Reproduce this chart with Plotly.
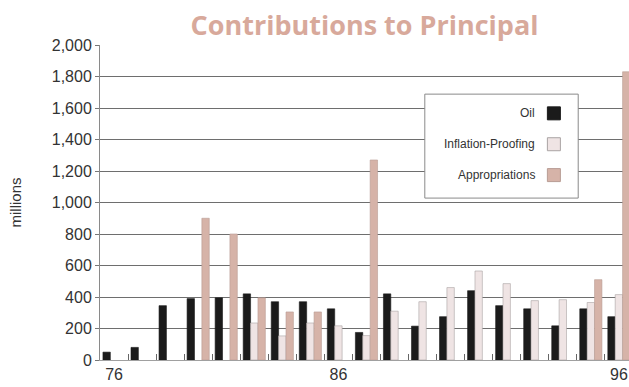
import plotly.graph_objects as go

# Contributions to principal, in millions of dollars, one group per year
periods = list(range(19))
tick_positions = [0, 8, 18]
tick_labels = ["76", "86", "96"]

oil = [50, 80, 345, 390, 395, 420, 370, 370, 325, 175, 420, 215, 275, 440, 345, 325, 217, 325, 275]
inflation_proofing = [None, None, None, None, None, 235, 153, 235, 217, 155, 310, 370, 460, 565, 485, 377, 383, 365, 415]
appropriations = [None, None, None, 900, 800, 395, 305, 305, None, 1270, None, None, None, None, None, None, None, 510, 1830]

series = [
    ("Oil", oil, "#1b1b1b", "#1b1b1b"),
    ("Inflation-Proofing", inflation_proofing, "#efe4e4", "#a9a3a3"),
    ("Appropriations", appropriations, "#d6b3a8", "#b89c94"),
]

fig = go.Figure()
for name, vals, fill, edge in series:
    fig.add_trace(go.Bar(
        x=periods, y=vals, name=name,
        marker=dict(color=fill, line=dict(color=edge, width=0.6)),
        showlegend=False,
    ))

# Custom key: right-aligned labels with swatches on the right
box = dict(x0=0.614, x1=0.904, y0=0.514, y1=0.844)
fig.add_shape(type="rect", xref="paper", yref="paper", **box,
              fillcolor="white", line=dict(color="#8a8a8a", width=1), layer="above")
key_y = [0.783, 0.685, 0.587]
sw_w = 13 / 529
sw_h = 13 / 315
for (name, _, fill, edge), yk in zip(series, key_y):
    fig.add_shape(type="rect", xref="paper", yref="paper",
                  x0=0.858 - sw_w / 2, x1=0.858 + sw_w / 2,
                  y0=yk - sw_h / 2, y1=yk + sw_h / 2,
                  fillcolor=fill, line=dict(color=edge if name != "Oil" else fill, width=1),
                  layer="above")
    fig.add_annotation(xref="paper", yref="paper", x=0.826, y=yk,
                       text=name, showarrow=False, xanchor="right", yanchor="middle",
                       font=dict(family="Liberation Sans, Arial", size=12, color="#333333"))

fig.update_layout(
    width=629, height=387,
    margin=dict(l=100, r=0, t=45, b=27),
    paper_bgcolor="white", plot_bgcolor="white",
    barmode="group", bargap=0.21, bargroupgap=0,
    title=dict(text="<b>Contributions to Principal</b>",
               x=0.5, xref="paper", xanchor="center",
               y=0.935, yref="container", yanchor="middle",
               font=dict(family="Open Sans", size=27, color="#d8a99b")),
    font=dict(family="Liberation Sans, Arial", color="#333333"),
)

fig.update_yaxes(
    range=[0, 2000], tickvals=list(range(0, 2001, 200)),
    tickformat=",d", tickfont=dict(size=16, color="#333333"),
    ticks="outside", ticklen=4, tickcolor="#777777",
    showgrid=True, gridcolor="#6e6e6e", gridwidth=1,
    showline=True, linecolor="#8a8a8a", linewidth=1,
    zeroline=False,
    title=dict(text="millions", font=dict(size=15, color="#333333"), standoff=26),
)

fig.update_xaxes(
    range=[-0.5, 18.36],
    tickmode="array", tickvals=tick_positions, ticktext=tick_labels,
    tickfont=dict(size=16, color="#333333"),
    ticks="", showgrid=False, zeroline=False,
    showline=True, linecolor="#a0a0a0", linewidth=1,
    minor=dict(tickmode="array", tickvals=[p + 0.5 for p in periods[:-1]],
               ticks="inside", ticklen=6, tickcolor="#666666", showgrid=False),
)

fig.write_html("out.html")
